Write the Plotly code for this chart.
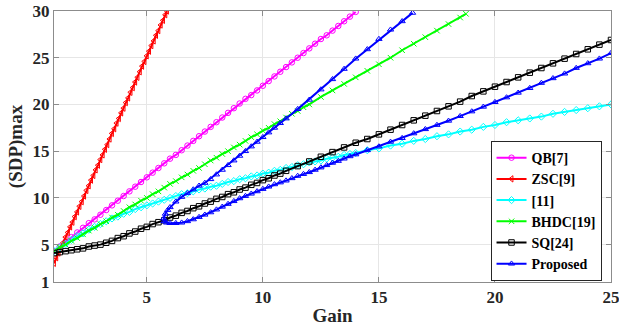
import plotly.graph_objects as go

# ---------------- data ----------------
qb_gain = [1, 1.25, 1.5, 1.75, 2, 2.25, 2.5, 2.75, 3, 3.25, 3.5, 3.75, 4, 4.25, 4.5, 4.75,
           5, 5.25, 5.5, 5.75, 6, 6.25, 6.5, 6.75, 7, 7.25, 7.5, 7.75, 8, 8.25, 8.5, 8.75,
           9, 9.25, 9.5, 9.75, 10, 10.25, 10.5, 10.75, 11, 11.25, 11.5, 11.75, 12, 12.25,
           12.5, 12.75, 13, 13.25, 13.5, 13.75, 14]
qb_sdp = [4.3, 4.8, 5.3, 5.8, 6.3, 6.8, 7.3, 7.7, 8.2, 8.7, 9.2, 9.7, 10.2, 10.7, 11.2, 11.7,
          12.2, 12.7, 13.2, 13.7, 14.2, 14.6, 15.1, 15.6, 16.1, 16.6, 17.1, 17.6, 18.1, 18.6,
          19.1, 19.6, 20.1, 20.6, 21.0, 21.5, 22.0, 22.5, 23.0, 23.5, 24.0, 24.5, 25.0, 25.5,
          26.0, 26.5, 27.0, 27.4, 27.9, 28.4, 28.9, 29.4, 29.9]

zsc_gain = [1.0, 1.1, 1.2, 1.3, 1.4, 1.5, 1.6, 1.7, 1.8, 1.9, 2.0, 2.1, 2.2, 2.3, 2.4, 2.5,
            2.6, 2.7, 2.8, 2.9, 3.0, 3.1, 3.2, 3.3, 3.4, 3.5, 3.6, 3.7, 3.8, 3.9, 4.0, 4.1,
            4.2, 4.3, 4.4, 4.5, 4.6, 4.7, 4.8, 4.9, 5.0, 5.1, 5.2, 5.3, 5.4, 5.5, 5.6, 5.7,
            5.8, 5.87]
zsc_sdp = [3.0, 3.6, 4.1, 4.7, 5.2, 5.8, 6.3, 6.9, 7.4, 8.0, 8.5, 9.1, 9.6, 10.2, 10.8, 11.3,
           11.9, 12.4, 13.0, 13.5, 14.1, 14.6, 15.2, 15.7, 16.3, 16.9, 17.4, 18.0, 18.5, 19.1,
           19.6, 20.2, 20.7, 21.3, 21.8, 22.4, 22.9, 23.5, 24.1, 24.6, 25.2, 25.7, 26.3, 26.8,
           27.4, 27.9, 28.5, 29.0, 29.6, 30.0]

r11_gain = [1, 1.25, 1.5, 1.75, 2, 2.25, 2.5, 2.75, 3, 3.25, 3.5, 3.75, 4, 4.25, 4.5, 4.75,
            5, 5.25, 5.5, 5.75, 6, 6.25, 6.5, 6.75, 7, 7.25, 7.5, 7.75, 8, 8.25, 8.5, 8.75,
            9, 9.25, 9.5, 9.75, 10, 10.25, 10.5, 10.75, 11, 11.25, 11.5, 11.75, 12, 12.25,
            12.5, 12.75, 13, 13.25, 13.5, 13.75, 14, 14.5, 15, 15.5, 16, 16.5, 17, 17.5, 18,
            18.5, 19, 19.5, 20, 20.5, 21, 21.5, 22, 22.5, 23, 23.5, 24, 24.5, 25]
r11_sdp = [4.3, 4.7, 5.1, 5.5, 5.9, 6.2, 6.6, 6.9, 7.2, 7.5, 7.8, 8.0, 8.3, 8.5, 8.8, 9.0,
           9.2, 9.4, 9.6, 9.8, 10.0, 10.2, 10.4, 10.5, 10.7, 10.9, 11.0, 11.2, 11.3, 11.5,
           11.7, 11.8, 12.0, 12.1, 12.3, 12.4, 12.6, 12.7, 12.9, 13.0, 13.2, 13.3, 13.5, 13.6,
           13.8, 13.9, 14.0, 14.2, 14.3, 14.4, 14.6, 14.7, 14.8, 15.1, 15.3, 15.6, 15.8, 16.1,
           16.3, 16.6, 16.8, 17.1, 17.3, 17.6, 17.8, 18.1, 18.3, 18.5, 18.7, 19.0, 19.2, 19.4,
           19.6, 19.8, 20.0]

bhdc_gain = [1, 1.25, 1.5, 1.75, 2, 2.25, 2.5, 2.75, 3, 3.25, 3.5, 3.75, 4, 4.25, 4.5, 4.75,
             5, 5.25, 5.5, 5.75, 6, 6.25, 6.5, 6.75, 7, 7.25, 7.5, 7.75, 8, 8.25, 8.5, 8.75,
             9, 9.25, 9.5, 9.75, 10, 10.25, 10.5, 10.75, 11, 11.25, 11.5, 11.75, 12, 12.5, 13,
             13.5, 14, 14.5, 15, 15.5, 16, 16.5, 17, 17.5, 18, 18.5, 18.75]
bhdc_sdp = [4.3, 4.7, 5.0, 5.4, 5.7, 6.1, 6.5, 6.8, 7.2, 7.5, 7.9, 8.2, 8.6, 9.0, 9.3, 9.7,
            10.0, 10.4, 10.7, 11.1, 11.5, 11.8, 12.2, 12.5, 12.9, 13.2, 13.6, 14.0, 14.3, 14.7,
            15.0, 15.4, 15.7, 16.1, 16.5, 16.8, 17.2, 17.5, 17.9, 18.2, 18.6, 19.0, 19.3, 19.7,
            20.0, 20.8, 21.5, 22.2, 22.9, 23.6, 24.3, 25.0, 25.8, 26.5, 27.2, 27.9, 28.6, 29.3,
            29.7]

sq_gain = [1, 1.25, 1.5, 1.75, 2, 2.25, 2.5, 2.75, 3, 3.25, 3.5, 3.75, 4, 4.25, 4.5, 4.75,
           5, 5.25, 5.5, 5.75, 6, 6.25, 6.5, 6.75, 7, 7.25, 7.5, 7.75, 8, 8.25, 8.5, 8.75,
           9, 9.25, 9.5, 9.75, 10, 10.25, 10.5, 10.75, 11, 11.5, 12, 12.5, 13, 13.5, 14, 14.5,
           15, 15.5, 16, 16.5, 17, 17.5, 18, 18.5, 19, 19.5, 20, 20.5, 21, 21.5, 22, 22.5, 23,
           23.5, 24, 24.5, 25]
sq_sdp = [4.1, 4.2, 4.3, 4.4, 4.5, 4.6, 4.8, 4.9, 5.0, 5.2, 5.4, 5.7, 5.9, 6.2, 6.4, 6.7,
          6.9, 7.2, 7.4, 7.6, 7.9, 8.1, 8.4, 8.6, 8.9, 9.1, 9.4, 9.6, 9.9, 10.1, 10.4, 10.6,
          10.9, 11.1, 11.4, 11.6, 11.9, 12.1, 12.4, 12.6, 12.9, 13.4, 13.9, 14.4, 14.9, 15.4,
          15.9, 16.3, 16.8, 17.3, 17.8, 18.3, 18.8, 19.3, 19.8, 20.3, 20.9, 21.4, 21.9, 22.4,
          22.9, 23.4, 23.9, 24.4, 24.9, 25.4, 25.9, 26.4, 26.9]

# Proposed: upper branch (from top end down to the nose), then lower branch
prop_gain = [16.45, 16.0, 15.5, 15.0, 14.5, 14.0, 13.5, 13.0, 12.5, 12.0, 11.5, 11.0, 10.75,
             10.5, 10.25, 10.0, 9.75, 9.5, 9.25, 9.0, 8.75, 8.5, 8.25, 8.0, 7.75, 7.5, 7.25,
             7.0, 6.75, 6.5, 6.25, 6.0, 5.9, 5.8, 5.73, 5.75, 5.85, 6.0, 6.25, 6.5, 6.75, 7.0,
             7.25, 7.5, 7.75, 8.0, 8.25, 8.5, 8.75, 9.0, 9.25, 9.5, 9.75, 10.0, 10.25, 10.5,
             10.75, 11.0, 11.25, 11.5, 11.75, 12.0, 12.25, 12.5, 12.75, 13.0, 13.25, 13.5,
             13.75, 14.0, 14.5, 15.0, 15.5, 16.0, 16.5, 17.0, 17.5, 18.0, 18.5, 19.0, 19.5,
             20.0, 20.5, 21.0, 21.5, 22.0, 22.5, 23.0, 23.5, 24.0, 24.5, 25.0]
prop_sdp = [29.8, 28.9, 28.0, 27.0, 25.9, 24.9, 23.8, 22.7, 21.6, 20.5, 19.5, 18.5, 18.0,
            17.5, 17.0, 16.5, 16.0, 15.5, 15.0, 14.5, 14.0, 13.5, 13.0, 12.5, 12.0, 11.6, 11.3,
            10.9, 10.5, 10.1, 9.6, 9.0, 8.7, 8.3, 7.8, 7.5, 7.35, 7.3, 7.3, 7.35, 7.5, 7.7,
            7.95, 8.2, 8.45, 8.75, 9.05, 9.35, 9.65, 9.95, 10.2, 10.45, 10.7, 10.95, 11.2, 11.45,
            11.65, 11.85, 12.1, 12.35, 12.55, 12.75, 13.0, 13.25, 13.5, 13.75, 13.95, 14.2,
            14.45, 14.65, 15.1, 15.5, 16.0, 16.4, 16.9, 17.35, 17.8, 18.25, 18.75, 19.25, 19.75,
            20.25, 20.75, 21.25, 21.75, 22.3, 22.8, 23.3, 23.9, 24.4, 24.9, 25.5]

series_names = ["QB[7]", "ZSC[9]", "[11]", "BHDC[19]", "SQ[24]", "Proposed"]
x_ticks = [5, 10, 15, 20, 25]
y_ticks = [1, 5, 10, 15, 20, 25, 30]

# ---------------- styling ----------------
FONT = "Liberation Serif"
styles = [
    ("#ff00ff", "circle-open"),
    ("#ff0000", "triangle-left-open"),
    ("#00ffff", "diamond-open"),
    ("#00ff00", "x-thin-open"),
    ("#000000", "square-open"),
    ("#0000ff", "triangle-up-open"),
]
data = [(qb_gain, qb_sdp), (zsc_gain, zsc_sdp), (r11_gain, r11_sdp),
        (bhdc_gain, bhdc_sdp), (sq_gain, sq_sdp), (prop_gain, prop_sdp)]

fig = go.Figure()
for name, (gx, gy), (col, sym) in zip(series_names, data, styles):
    fig.add_trace(go.Scatter(
        x=gx, y=gy, name="<b>" + name + "</b>", mode="lines+markers",
        line=dict(color=col, width=2),
        marker=dict(symbol=sym, size=5.5, color=col, line=dict(color=col, width=1)),
    ))

def tf(size):
    return dict(family=FONT, size=size, color="#262626")

axis_common = dict(
    showline=True, linecolor="#8c8c8c", linewidth=1, mirror="ticks",
    ticks="inside", ticklen=5, tickcolor="#8c8c8c",
    showgrid=True, gridcolor="#e6e6e6", gridwidth=1, zeroline=False,
    tickfont=tf(17), ticklabeloverflow="allow",
)

fig.update_layout(
    template="none",
    width=619, height=326,
    margin=dict(l=54, r=8, t=11, b=44),
    paper_bgcolor="white", plot_bgcolor="white",
    font=dict(family=FONT, color="#262626"),
    showlegend=True,
    legend=dict(
        x=0.983, xanchor="right", y=0.52, yanchor="top",
        bgcolor="white", bordercolor="#262626", borderwidth=1,
        font=dict(family=FONT, size=14, color="#000000"),
        itemwidth=30, tracegroupgap=0,
    ),
    xaxis=dict(range=[1, 25], tickvals=x_ticks, ticktext=["<b>%d</b>" % v for v in x_ticks],
               title=dict(text="<b>Gain</b>", font=tf(19), standoff=6),
               **axis_common),
    yaxis=dict(range=[1, 30], tickvals=y_ticks, ticktext=["<b>%d</b>" % v for v in y_ticks],
               title=dict(text="<b>(SDP)max</b>", font=tf(19), standoff=4),
               **axis_common),
)

fig.write_html("out.html")
